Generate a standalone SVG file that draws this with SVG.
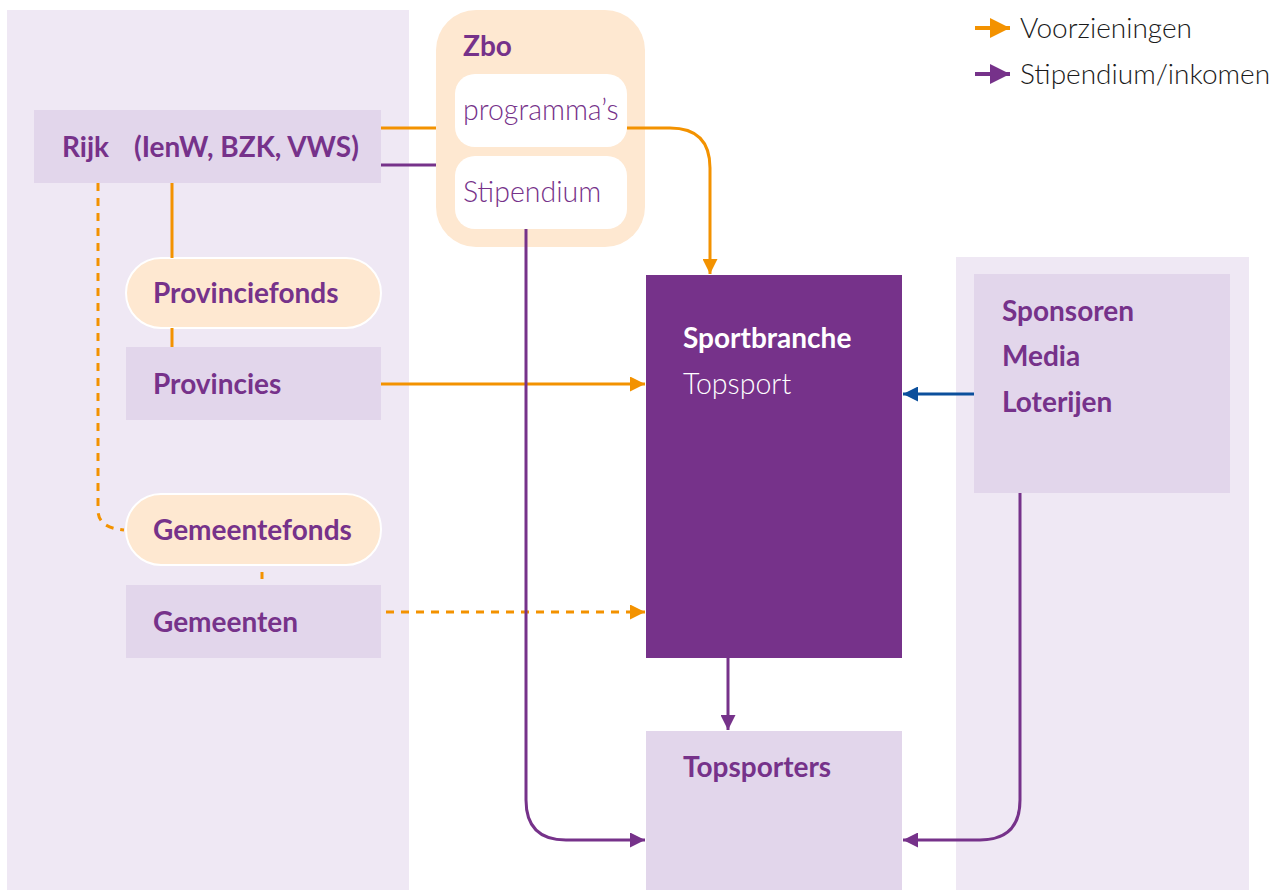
<svg xmlns="http://www.w3.org/2000/svg" width="1287" height="890" viewBox="0 0 1287 890">
<defs>
<style>
.bg{fill:#efe8f4}
.box{fill:#e2d6eb}
.pill{fill:#fee8d1;stroke:#ffffff;stroke-width:2}
.t{font-family:Lato,"Open Sans",sans-serif;font-size:28px;font-weight:700;fill:#76328a}
.tl{font-family:Lato,"Open Sans",sans-serif;font-size:28.5px;font-weight:300;fill:#76328a}
.lg{font-family:Lato,"Open Sans",sans-serif;font-size:28px;font-weight:300;fill:#1a1a1a}
.o{stroke:#f39200;stroke-width:3;fill:none}
.p{stroke:#76328a;stroke-width:3;fill:none}
.b{stroke:#0b4f9c;stroke-width:3;fill:none}
.d{stroke-dasharray:8 7}
</style>
<marker id="ao" viewBox="0 0 10 10" refX="10" refY="5" markerWidth="5" markerHeight="5" markerUnits="strokeWidth" orient="auto"><path d="M0,0L10,5L0,10z" fill="#f39200"/></marker>
<marker id="ap" viewBox="0 0 10 10" refX="10" refY="5" markerWidth="5" markerHeight="5" markerUnits="strokeWidth" orient="auto"><path d="M0,0L10,5L0,10z" fill="#76328a"/></marker>
<marker id="ab" viewBox="0 0 10 10" refX="10" refY="5" markerWidth="5" markerHeight="5" markerUnits="strokeWidth" orient="auto"><path d="M0,0L10,5L0,10z" fill="#0b4f9c"/></marker>
</defs>
<rect width="1287" height="890" fill="#ffffff"/>
<rect id="panel-left" class="bg" x="7" y="10" width="402" height="880"/>
<rect id="panel-right" class="bg" x="956" y="257" width="293" height="633"/>

<g id="zbo">
<rect x="436" y="10" width="209" height="237" rx="40" fill="#fee8d1"/>
<text class="t" x="463" y="56">Zbo</text>
</g>
<g id="programmas">
<rect x="455" y="74" width="172" height="73" rx="20" fill="#ffffff"/>
<text class="tl" x="463" y="120">programma’s</text>
</g>
<g id="stipendium">
<rect x="455" y="156" width="172" height="73" rx="20" fill="#ffffff"/>
<text class="tl" x="463" y="202">Stipendium</text>
</g>
<g id="rijk">
<rect class="box" x="34" y="110" width="347" height="73"/>
<text class="t" x="62" y="157">Rijk</text>
<text class="t" x="134" y="157">(IenW, BZK, VWS)</text>
</g>
<g id="provinciefonds">
<rect class="pill" x="126" y="258" width="255" height="70" rx="35"/>
<text class="t" x="153" y="303">Provinciefonds</text>
</g>
<g id="provincies">
<rect class="box" x="126" y="347" width="255" height="73"/>
<text class="t" x="153" y="394">Provincies</text>
</g>
<g id="gemeentefonds">
<rect class="pill" x="126" y="494" width="255" height="71" rx="35"/>
<text class="t" x="153" y="540">Gemeentefonds</text>
</g>
<g id="gemeenten">
<rect class="box" x="126" y="585" width="255" height="73"/>
<text class="t" x="153" y="632">Gemeenten</text>
</g>
<g id="sportbranche">
<rect x="646" y="275" width="256" height="383" fill="#76328a"/>
<text class="t" x="683" y="348" style="fill:#ffffff">Sportbranche</text>
<text class="tl" x="683" y="394" style="fill:#ffffff">Topsport</text>
</g>
<g id="sponsoren">
<rect class="box" x="974" y="274" width="256" height="219"/>
<text class="t" x="1002" y="321">Sponsoren</text>
<text class="t" x="1002" y="366">Media</text>
<text class="t" x="1002" y="412">Loterijen</text>
</g>
<g id="topsporters">
<rect class="box" x="646" y="731" width="256" height="159"/>
<text class="t" x="683" y="777">Topsporters</text>
</g>

<g id="connectors">
<path class="o" d="M381,128H436"/>
<path class="o" d="M627,128H670Q710,128 710,168V274" marker-end="url(#ao)"/>
<path class="o" d="M172,183V258"/>
<path class="o" d="M172,328V347"/>
<path class="o" d="M381,384H645" marker-end="url(#ao)"/>
<path class="o d" d="M98,183V510Q98,528 124,530"/>
<path class="o" d="M262,572V579"/>
<path class="o d" d="M386,612H645" marker-end="url(#ao)"/>
<path class="b" d="M974,394H903" marker-end="url(#ab)"/>
<path class="p" d="M381,165H436"/>
<path class="p" d="M526,229V800Q526,840 566,840H645" marker-end="url(#ap)"/>
<path class="p" d="M728,658V730" marker-end="url(#ap)"/>
<path class="p" d="M1020,493V800Q1020,840 980,840H903" marker-end="url(#ap)"/>
</g>

<g id="legend">
<path class="o" d="M975,28H1010" marker-end="url(#ao)" style="stroke-width:4"/>
<text class="lg" x="1020" y="38">Voorzieningen</text>
<path class="p" d="M975,74H1010" marker-end="url(#ap)" style="stroke-width:4"/>
<text class="lg" x="1020" y="84">Stipendium/inkomen</text>
</g>
</svg>
